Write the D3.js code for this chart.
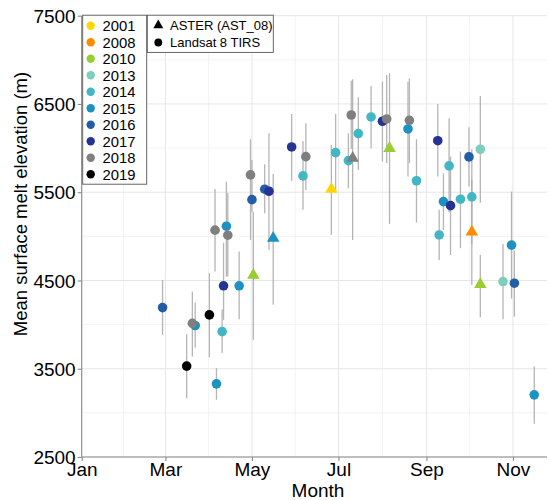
<!DOCTYPE html>
<html><head><meta charset="utf-8">
<script src="https://cdn.jsdelivr.net/npm/d3@7"></script>
<style>html,body{margin:0;padding:0;background:#fff;}svg{display:block;font-family:"Liberation Sans",Arial,sans-serif;}</style>
</head><body><svg id="c" width="550" height="500"></svg>
<script>
// ---- data ----
const yearKeys = [2001, 2008, 2010, 2013, 2014, 2015, 2016, 2017, 2018, 2019];
const yearColors = ["#FFD700", "#FF8C00", "#9ACD32", "#7FCDBB", "#41B6C4", "#1D91C0", "#225EA8", "#253494", "#7F7F7F", "#000000"];
const sensorKeys = ["ASTER (AST_08)", "Landsat 8 TIRS"];
const monthTicks = ["01-01", "03-01", "05-01", "07-01", "09-01", "11-01"];
const yTicks = [2500, 3500, 4500, 5500, 6500, 7500];

const obsDates = ["02-27","03-20","03-22","03-16","04-01","04-10","04-06","04-11","04-22","04-05",
  "04-13","04-14","05-02","04-30","05-01","05-10","05-13","05-16","05-29","06-08",
  "06-06","06-26","06-29","07-10","07-08","07-11","07-15","07-24","08-01","08-04",
  "08-06","08-20","08-19","08-25","09-09","09-17","09-13","09-18","09-10","09-25",
  "10-01","10-09","10-03","10-03","10-31","10-25","11-02","10-09","11-16"];
const obsYears = [2016,2018,2015,2019,2019,2014,2015,2017,2015,2018,
  2015,2018,2010,2018,2016,2016,2017,2015,2017,2018,
  2014,2001,2014,2018,2014,2018,2014,2014,2017,2018,
  2010,2018,2015,2014,2017,2014,2015,2017,2014,2014,
  2016,2013,2014,2008,2015,2013,2016,2010,2015];
const obsSensor = ["L","L","L","L","L","L","L","L","L","L",
  "L","L","A","L","L","L","L","A","L","L",
  "L","A","L","L","L","A","L","L","L","L",
  "A","L","L","L","L","L","L","L","L","L",
  "L","L","L","A","L","L","L","A","L"];
const meanElev = [4193,4014,3990,3530,4110,3920,3329,4440,4440,5070,
  5115,5013,4560,5696,5416,5534,5511,4979,6013,5903,
  5685,5535,5949,6375,5858,5885,6164,6353,6304,6330,
  5998,6315,6217,5630,6084,5798,5394,5348,5016,5421,
  5900,5987,5447,5050,4901,4488,4469,4456,3204];
const lowElev = [3884,3638,3737,3167,3631,3677,3148,4054,4062,4601,
  4544,4544,3827,4960,5280,5262,4847,4224,5631,5526,
  5300,5016,5526,5990,5545,4960,5753,5998,5847,5830,
  5141,5830,5677,5156,5677,5270,5073,4790,4733,4866,
  5564,5382,4910,4450,4295,4062,4091,4084,2876];
const highElev = [4507,4374,4250,3892,4583,4175,3507,4926,4827,5534,
  5620,5489,5280,6100,5866,5817,6168,5707,6387,6281,
  6081,6036,6387,6764,6168,6780,6576,6704,6753,6828,
  6848,6791,6753,6100,6500,6338,5715,5903,5300,5960,
  6236,6591,5987,5640,5507,4914,4839,4790,3525];

// ---- build ----
const parse = d3.timeParse("%Y-%m-%d");
const toDate = md => parse("2019-" + md);
const rows = obsDates.map((d, i) => ({date: toDate(d), year: obsYears[i], sensor: obsSensor[i],
  mean: meanElev[i], lo: lowElev[i], hi: highElev[i]}));

const L = 81.7, R = 547, T = 15.7, B = 457;
const svg = d3.select("#c");
const x = d3.scaleTime().domain([toDate("01-01"), toDate("11-25")]).range([L, R]);
const y = d3.scaleLinear().domain([2500, 7500]).range([B, T]);
const color = d3.scaleOrdinal().domain(yearKeys).range(yearColors);

// grid
const g = svg.append("g");
const majX = monthTicks.map(toDate);
const minX = d3.pairs(majX).map(([a, b]) => new Date((+a + +b) / 2));
const minY = d3.range(3000, 7500, 1000);
g.selectAll(".gminy").data(minY).join("line").attr("x1", L).attr("x2", R)
  .attr("y1", d => y(d)).attr("y2", d => y(d)).attr("stroke", "#f0f0f0").attr("stroke-width", 0.8);
g.selectAll(".gminx").data(minX).join("line").attr("y1", T).attr("y2", B)
  .attr("x1", d => x(d)).attr("x2", d => x(d)).attr("stroke", "#f0f0f0").attr("stroke-width", 0.8);
g.selectAll(".gmajy").data(yTicks).join("line").attr("x1", L).attr("x2", R)
  .attr("y1", d => y(d)).attr("y2", d => y(d)).attr("stroke", "#e6e6e6").attr("stroke-width", 1);
g.selectAll(".gmajx").data(majX).join("line").attr("y1", T).attr("y2", B)
  .attr("x1", d => x(d)).attr("x2", d => x(d)).attr("stroke", "#e6e6e6").attr("stroke-width", 1);

// axes
const axCol = "#8a8a8a";
const yAxis = svg.append("g").attr("transform", `translate(${L},0)`)
  .call(d3.axisLeft(y).tickValues(yTicks).tickSize(4).tickPadding(2).tickFormat(d3.format("d")));
const xAxis = svg.append("g").attr("transform", `translate(0,${B})`)
  .call(d3.axisBottom(x).tickValues(majX).tickSize(4).tickPadding(2).tickFormat(d3.timeFormat("%b")));
[yAxis, xAxis].forEach(a => {
  a.select(".domain").attr("stroke", axCol).attr("stroke-width", 1.1);
  a.selectAll(".tick line").attr("stroke", axCol).attr("stroke-width", 1.1);
  a.selectAll(".tick text").attr("fill", "#000").style("font-size", "19px")
    .style("font-family", '"Liberation Sans",Arial,sans-serif');
});
yAxis.select(".domain").attr("d", `M0,${B}V${T}`);
xAxis.select(".domain").attr("d", `M${L},0H${R}`);
yAxis.selectAll(".tick text").attr("dy", "0.35em");
xAxis.selectAll(".tick text").attr("dy", "0.71em");

// titles
svg.append("text").attr("x", 318).attr("y", 497).attr("text-anchor", "middle")
  .style("font-size", "19px").text("Month");
svg.append("text").attr("transform", "translate(27,204) rotate(-90)").attr("text-anchor", "middle")
  .style("font-size", "18.5px").text("Mean surface melt elevation (m)");

// error bars
const plot = svg.append("g");
plot.selectAll(".eb").data(rows).join("line")
  .attr("x1", d => x(d.date)).attr("x2", d => x(d.date))
  .attr("y1", d => y(d.lo)).attr("y2", d => y(d.hi))
  .attr("stroke", "#a8a8a8").attr("stroke-width", 1.3).attr("stroke-opacity", 0.85);

// points (Landsat circles, then ASTER triangles)
const circ = rows.filter(d => d.sensor === "L").sort((a, b) => a.year - b.year);
const tri = rows.filter(d => d.sensor === "A");
plot.selectAll(".pt").data(circ).join("circle")
  .attr("cx", d => x(d.date)).attr("cy", d => y(d.mean)).attr("r", 4.8)
  .attr("fill", d => color(d.year));
const triSym = d3.symbol().type(d3.symbolTriangle).size(68);
plot.selectAll(".tr").data(tri).join("path")
  .attr("d", triSym).attr("transform", d => `translate(${x(d.date)},${y(d.mean)})`)
  .attr("fill", d => color(d.year));

// legend: years
const lg = svg.append("g");
lg.append("rect").attr("x", 82.7).attr("y", 15.2).attr("width", 64).attr("height", 169)
  .attr("fill", "#fff").attr("stroke", "#555").attr("stroke-width", 0.9);
yearKeys.forEach((k, i) => {
  const cy = 25.7 + i * 16.5;
  lg.append("circle").attr("cx", 90.7).attr("cy", cy).attr("r", 4.2).attr("fill", color(k));
  lg.append("text").attr("x", 102.5).attr("y", cy).attr("dy", "0.36em").style("font-size", "14.8px").text(k);
});
// legend: sensors
const sg = svg.append("g");
sg.append("rect").attr("x", 147.3).attr("y", 15.2).attr("width", 126).attr("height", 37.2)
  .attr("fill", "#fff").attr("stroke", "#555").attr("stroke-width", 0.9);
sensorKeys.forEach((k, i) => {
  const cy = 25.3 + i * 17.2;
  if (i === 0) sg.append("path").attr("d", d3.symbol().type(d3.symbolTriangle).size(42)())
    .attr("transform", `translate(158.3,${cy})`).attr("fill", "#000");
  else sg.append("circle").attr("cx", 158.3).attr("cy", cy).attr("r", 3.9).attr("fill", "#000");
  sg.append("text").attr("x", 170).attr("y", cy).attr("dy", "0.36em").style("font-size", "13px").text(k);
});
</script></body></html>
